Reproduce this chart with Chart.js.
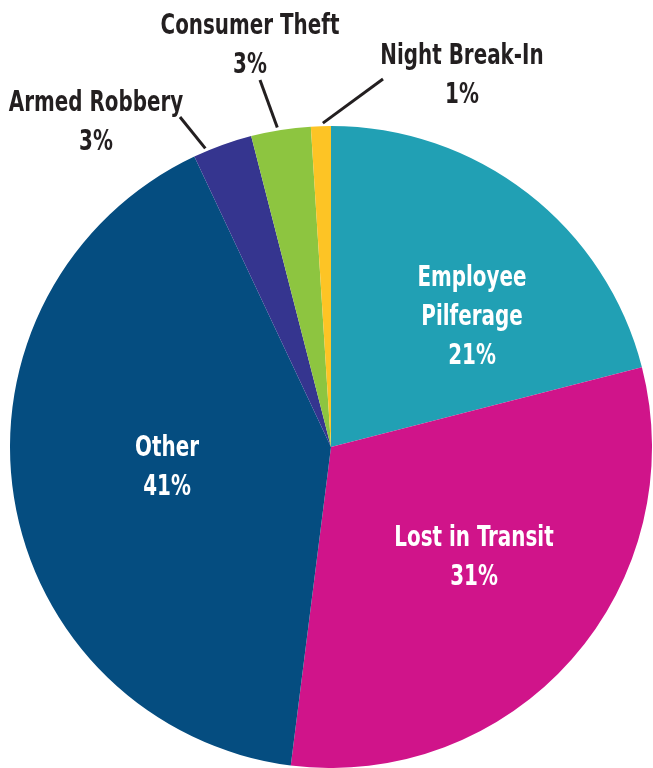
<!DOCTYPE html>
<html>
<head>
<meta charset="utf-8">
<script src="https://cdn.jsdelivr.net/npm/chart.js@4/dist/chart.umd.min.js"></script>
<style>
  body { margin: 0; background: #fff; }
  canvas { display: block; }
</style>
</head>
<body>
<canvas id="chart" width="653" height="768"></canvas>
<script>
const ctx = document.querySelector('#chart')

const categories = ['Employee Pilferage', 'Lost in Transit', 'Other', 'Armed Robbery', 'Consumer Theft', 'Night Break-In']
const shares = [21, 31, 41, 3, 3, 1]
const colors = ['#21a0b4', '#d0148a', '#054d80', '#35358f', '#8dc540', '#fdc425']

// where each label sits, and for outside ones where the leader line ends
const labelSpots = [
    { x: 472, y: 318, lines: ['Employee', 'Pilferage'], inside: true },
    { x: 474, y: 558, lines: ['Lost in Transit'], inside: true },
    { x: 167, y: 468, lines: ['Other'], inside: true },
    { x: 96, y: 123, lines: ['Armed Robbery'], inside: false, frac: 0.22, lx: 180, ly: 117 },
    { x: 250, y: 46, lines: ['Consumer Theft'], inside: false, frac: 0.45, lx: 260, ly: 80 },
    { x: 462, y: 76, lines: ['Night Break-In'], inside: false, frac: 0.6, lx: 383, ly: 79 }
]

const fontFamily = '"Liberation Sans Narrow", "DejaVu Sans Condensed", sans-serif'
const squeeze = 0.79

const sliceLabels = {
    id: 'sliceLabels',
    afterDatasetsDraw(chart) {
        const c = chart.ctx
        const meta = chart.getDatasetMeta(0)
        meta.data.forEach((arc, i) => {
            const spot = labelSpots[i]
            const p = arc.getProps(['x', 'y', 'startAngle', 'endAngle', 'outerRadius'], true)
            const lines = spot.lines.concat([shares[i] + '%'])
            c.save()
            if (!spot.inside) {
                const a = p.startAngle + (p.endAngle - p.startAngle) * spot.frac
                const r = p.outerRadius + 3
                c.strokeStyle = '#231f20'
                c.lineWidth = 3
                c.beginPath()
                c.moveTo(p.x + Math.cos(a) * r, p.y + Math.sin(a) * r)
                c.lineTo(spot.lx, spot.ly)
                c.stroke()
            }
            c.font = 'bold 28px ' + fontFamily
            c.textAlign = 'center'
            c.textBaseline = 'middle'
            c.fillStyle = spot.inside ? '#ffffff' : '#231f20'
            c.translate(spot.x, 0)
            c.scale(squeeze, 1)
            const lh = 39
            const top = spot.y - (lines.length - 1) * lh / 2
            lines.forEach((t, k) => {
                c.fillText(t, 0, top + k * lh)
            })
            c.restore()
        })
    }
}

const data = {
    labels: categories,
    datasets: [{
        data: shares,
        backgroundColor: colors,
        borderWidth: 0
    }]
}

const config = {
    type: 'pie',
    data: data,
    options: {
        responsive: false,
        animation: false,
        layout: {
            padding: { top: 126, left: 10, right: 1, bottom: 0 }
        },
        plugins: {
            legend: { display: false },
            tooltip: { enabled: false }
        }
    },
    plugins: [sliceLabels]
}

new Chart(ctx, config)
</script>
</body>
</html>
